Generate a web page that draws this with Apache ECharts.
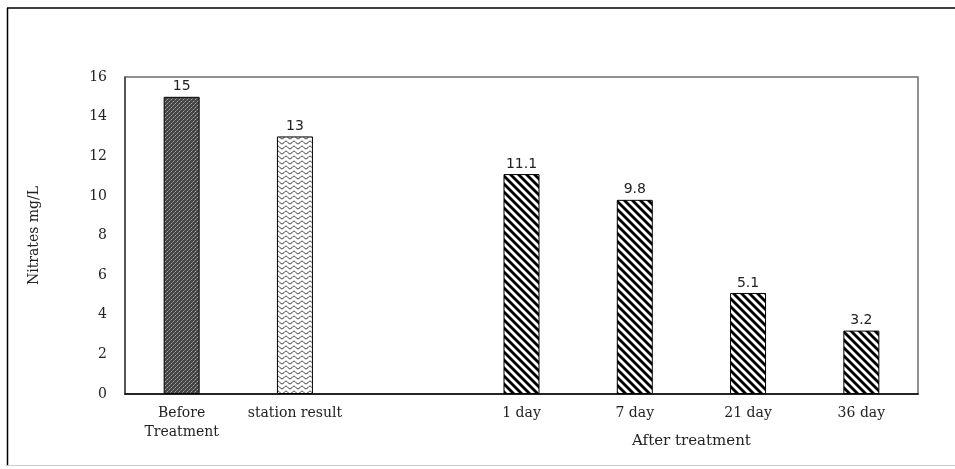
<!DOCTYPE html>
<html>
<head>
<meta charset="utf-8">
<script src="https://cdn.jsdelivr.net/npm/echarts@6/dist/echarts.min.js"></script>
<style>
html,body{margin:0;padding:0;background:#fff;}
#chart{width:955px;height:469px;}
</style>
</head>
<body>
<div id="chart"></div>
<script>
const categories = ['Before\nTreatment', 'station result', '', '1 day', '7 day', '21 day', '36 day'];
const values = [15, 13, null, 11.1, 9.8, 5.1, 3.2];
const patternKinds = ['cross', 'wave', 'none', 'stripe', 'stripe', 'stripe', 'stripe'];
const groupLabel = 'After treatment';
const yAxisName = 'Nitrates mg/L';

function makeCanvas(w, h) {
  const c = document.createElement('canvas');
  c.width = w; c.height = h;
  return c;
}
function stripePattern() {
  const s = 8;
  const c = makeCanvas(s, s);
  const g = c.getContext('2d');
  g.fillStyle = '#fff'; g.fillRect(0, 0, s, s);
  g.strokeStyle = '#000'; g.lineWidth = 2.8;
  for (let k = -1; k <= 1; k++) {
    g.beginPath();
    g.moveTo(k * s - 1, -1);
    g.lineTo(k * s + s + 1, s + 1);
    g.stroke();
  }
  return c;
}
function crossPattern() {
  const s = 4;
  const c = makeCanvas(s, s);
  const g = c.getContext('2d');
  g.fillStyle = '#444'; g.fillRect(0, 0, s, s);
  g.fillStyle = '#aaa';
  g.fillRect(1, 1, 1, 1);
  g.fillRect(3, 3, 1, 1);
  g.fillStyle = '#777';
  g.fillRect(0, 2, 1, 1);
  g.fillRect(2, 0, 1, 1);
  return c;
}
function wavePattern() {
  const w = 8, h = 5;
  const c = makeCanvas(w, h);
  const g = c.getContext('2d');
  g.fillStyle = '#fff'; g.fillRect(0, 0, w, h);
  g.strokeStyle = '#222'; g.lineWidth = 1;
  g.beginPath();
  for (let x = 0; x <= w; x += 0.5) {
    const y = 2.5 + 1.3 * Math.sin(x / w * Math.PI * 2);
    if (x === 0) g.moveTo(x, y); else g.lineTo(x, y);
  }
  g.stroke();
  return c;
}
const patterns = {
  stripe: stripePattern(),
  cross: crossPattern(),
  wave: wavePattern()
};

const seriesData = values.map((v, i) => {
  const kind = patternKinds[i];
  return {
    value: v,
    itemStyle: kind === 'none' ? {} : {
      color: { image: patterns[kind], repeat: 'repeat' },
      borderColor: '#000',
      borderWidth: 1
    }
  };
});

const chart = echarts.init(document.getElementById('chart'));
const option = {
  animation: false,
  backgroundColor: '#fff',
  grid: {
    left: 125, right: 37, top: 77, bottom: 75,
    show: true, borderColor: '#6e6e6e', borderWidth: 1.5, backgroundColor: 'transparent'
  },
  xAxis: {
    type: 'category',
    data: categories,
    axisLine: { lineStyle: { color: '#000', width: 1.5 } },
    axisTick: { show: false },
    axisLabel: {
      interval: 0,
      margin: 10,
      fontFamily: 'DejaVu Serif',
      fontSize: 14,
      color: '#222',
      lineHeight: 19
    }
  },
  yAxis: {
    type: 'value',
    min: 0, max: 16, interval: 2,
    name: yAxisName,
    nameLocation: 'middle',
    nameGap: 84,
    nameRotate: 90,
    nameTextStyle: { fontFamily: 'DejaVu Serif', fontSize: 14, color: '#222' },
    axisLine: { show: true, lineStyle: { color: '#444', width: 1.5 } },
    axisTick: { show: false },
    splitLine: { show: false },
    axisLabel: {
      margin: 18,
      fontFamily: 'DejaVu Serif',
      fontSize: 14,
      color: '#222'
    }
  },
  series: [{
    type: 'bar',
    data: seriesData,
    barWidth: 36,
    label: {
      show: true,
      position: 'top',
      distance: 3,
      fontFamily: 'DejaVu Sans',
      fontSize: 14,
      color: '#222'
    }
  }]
};
chart.setOption(option);

const x1 = chart.convertToPixel({ xAxisIndex: 0 }, categories[4]);
const x2 = chart.convertToPixel({ xAxisIndex: 0 }, categories[5]);
chart.setOption({
  graphic: [
    { type: 'line', shape: { x1: 7, y1: 8, x2: 955, y2: 8 }, style: { stroke: '#000', lineWidth: 1.5 } },
    { type: 'line', shape: { x1: 7.5, y1: 8, x2: 7.5, y2: 466 }, style: { stroke: '#000', lineWidth: 1.5 } },
    { type: 'line', shape: { x1: 7, y1: 465.5, x2: 955, y2: 465.5 }, style: { stroke: '#ccc', lineWidth: 1 } },
    {
      type: 'text',
      x: (x1 + x2) / 2,
      y: 434,
      style: {
        text: groupLabel,
        textAlign: 'center',
        textVerticalAlign: 'top',
        fontFamily: 'DejaVu Serif',
        fontSize: 15,
        fill: '#222'
      }
    }
  ]
});
</script>
</body>
</html>
